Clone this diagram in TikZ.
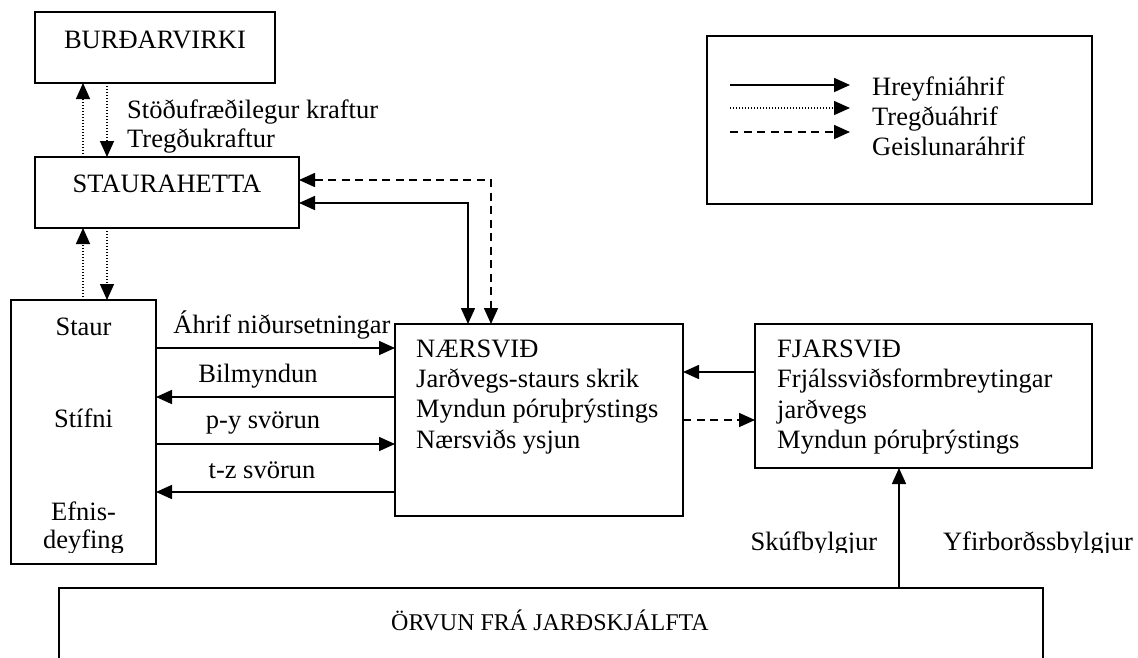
\documentclass[tikz,border=0pt]{standalone}
\usepackage{fontspec}
\setmainfont{Liberation Serif}
\usetikzlibrary{arrows.meta}
\begin{document}
\begin{tikzpicture}[x=1pt,y=-1pt,
  box/.style={draw,line width=1.7pt,inner sep=0pt,outer sep=0pt},
  txt/.style={font=\fontsize{26.5}{30}\selectfont,inner sep=0pt},
  tip/.style={-{Triangle[length=16pt,width=14pt]}},
  bitip/.style={{Triangle[length=16pt,width=14pt]}-{Triangle[length=16pt,width=14pt]}},
  solidln/.style={line width=1.6pt},
  dotln/.style={line width=1.4pt,dash pattern=on 1.3pt off 1.7pt},
  dashln/.style={line width=1.6pt,dash pattern=on 8pt off 5.5pt}]
\clip (0,0) rectangle (1138,657);
\fill[white] (0,0) rectangle (1138,657);

% boxes
\node[box,minimum width=240pt,minimum height=71pt] (burd) at (155,47.5) {};
\node[box,minimum width=264pt,minimum height=71pt] (hetta) at (167,192.5) {};
\node[box,minimum width=145pt,minimum height=264pt] (staur) at (83.5,432) {};
\node[box,minimum width=288pt,minimum height=192pt] (naer) at (539,420) {};
\node[box,minimum width=337pt,minimum height=144pt] (fjar) at (923.5,396) {};
\node[box,minimum width=385pt,minimum height=168pt] (legend) at (899.5,120) {};
\node[box,minimum width=984pt,minimum height=200pt] (orvun) at (551,688) {};

% box texts
\node[txt,anchor=base] (tburd) at (155,48) {BURÐARVIRKI};
\node[txt,anchor=base] (thetta) at (167,192) {STAURAHETTA};
\node[txt,anchor=base west] (tstod) at (127,118) {Stöðufræðilegur kraftur};
\node[txt,anchor=base west] (ttreg) at (127,147) {Tregðukraftur};
\node[txt,anchor=base] (tstaur) at (83.5,335) {Staur};
\node[txt,anchor=base] (tstif) at (83.5,427) {Stífni};
\node[txt,anchor=base] (tefn) at (83.5,520) {Efnis-};
\begin{scope}
\clip (0,0) rectangle (1138,552);
\node[txt,anchor=base] (tdey) at (83.5,548) {deyfing};
\node[txt,anchor=base] (tskuf) at (814,550) {Skúfbylgjur};
\node[txt,anchor=base] (tyfir) at (1038,550) {Yfirborðssbylgjur};
\end{scope}

\node[txt,anchor=base] (tahr) at (282,333) {Áhrif niðursetningar};
\node[txt,anchor=base] (tbil) at (258,382) {Bilmyndun};
\node[txt,anchor=base] (tpy) at (263,428) {p-y svörun};
\node[txt,anchor=base] (ttz) at (262,478) {t-z svörun};

\node[txt,anchor=base west] (tnaer) at (416,357) {NÆRSVIÐ};
\node[txt,anchor=base west] (tnaer2) at (416,387) {Jarðvegs-staurs skrik};
\node[txt,anchor=base west] (tnaer3) at (416,417) {Myndun póruþrýstings};
\node[txt,anchor=base west] (tnaer4) at (416,448) {Nærsviðs ysjun};

\node[txt,anchor=base west] (tfjar) at (777,357) {FJARSVIÐ};
\node[txt,anchor=base west] (tfjar2) at (777,387) {Frjálssviðsformbreytingar};
\node[txt,anchor=base west] (tfjar3) at (777,418) {jarðvegs};
\node[txt,anchor=base west] (tfjar4) at (777,448) {Myndun póruþrýstings};

\node[font=\fontsize{24}{28}\selectfont,inner sep=0pt,anchor=base] (torv) at (550,630) {ÖRVUN FRÁ JARÐSKJÁLFTA};

% legend
\coordinate (la1) at (730,85); \coordinate (lb1) at (850,85);
\coordinate (la2) at (730,108); \coordinate (lb2) at (850,108);
\coordinate (la3) at (730,132); \coordinate (lb3) at (850,132);
\draw[solidln,tip] (la1) -- (lb1);
\draw[dotln,tip] (la2) -- (lb2);
\draw[dashln,tip] (la3) -- (lb3);
\node[txt,anchor=base west] (lg1) at (872,95) {Hreyfniáhrif};
\node[txt,anchor=base west] (lg2) at (872,125) {Tregðuáhrif};
\node[txt,anchor=base west] (lg3) at (872,155) {Geislunaráhrif};

% connectors
\draw[dotln,tip] ([xshift=48pt]hetta.north west) -- ([xshift=48pt]burd.south west);
\draw[dotln,tip] ([xshift=72pt]burd.south west) -- ([xshift=72pt]hetta.north west);
\draw[dotln,tip] ([xshift=72pt]staur.north west) -- ([xshift=48pt]hetta.south west);
\draw[dotln,tip] ([xshift=72pt]hetta.south west) -- ([xshift=96pt]staur.north west);

\draw[solidln,bitip] ([yshift=-10.5pt]hetta.east) -| ([xshift=73pt]naer.north west);
\draw[dashln,bitip] ([yshift=12.5pt]hetta.east) -| ([xshift=96pt]naer.north west);

\draw[solidln,tip] ([yshift=84pt]staur.east) -- ([yshift=72pt]naer.west);
\draw[solidln,tip] ([yshift=23pt]naer.west) -- ([yshift=35pt]staur.east);
\draw[solidln,tip] ([yshift=-12pt]staur.east) -- ([yshift=-24pt]naer.west);
\draw[solidln,tip] ([yshift=-72pt]naer.west) -- ([yshift=-60pt]staur.east);

\draw[solidln,tip] ([yshift=24pt]fjar.west) -- ([yshift=48pt]naer.east);
\draw[dashln,tip] (naer.east) -- ([yshift=-24pt]fjar.west);
\draw[solidln,tip] ([xshift=840pt]orvun.north west) -- ([xshift=144pt]fjar.south west);
\end{tikzpicture}
\end{document}
